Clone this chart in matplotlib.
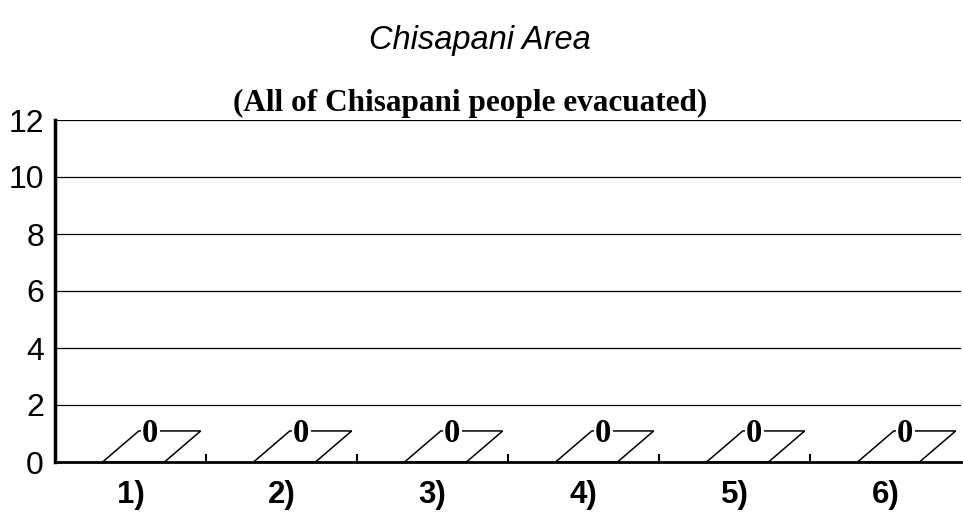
import numpy as np
import matplotlib
matplotlib.use("Agg")
from matplotlib import pyplot as plt
from matplotlib.patches import Polygon

### data ###

categories = ["1)", "2)", "3)", "4)", "5)", "6)"]
evacuees = [0, 0, 0, 0, 0, 0]
y_ticks = [0, 2, 4, 6, 8, 10, 12]

title = "Chisapani Area"
subtitle = "(All of Chisapani people evacuated)"

### plot ###

fig = plt.figure(figsize=(9.63, 5.12), dpi=100)
ax = fig.add_axes([55/963, 50/512, 906/963, 342/512])

x = np.arange(len(categories))
bar_w = 0.41
depth_x, depth_y = 0.24, 1.09

ax.set_xlim(-0.5, len(categories) - 0.5)
ax.set_ylim(0, 12)

# gridlines
for yv in y_ticks[1:]:
    ax.axhline(yv, color="black", lw=0.9, zorder=1)

# flat "3d" bars
for xi, v in zip(x, evacuees):
    x0 = xi - bar_w/2 + 0.02
    pts = [(x0, v), (x0 + bar_w, v),
           (x0 + bar_w + depth_x, v + depth_y), (x0 + depth_x, v + depth_y)]
    ax.add_patch(Polygon(pts, closed=True, fill=False, edgecolor="black", lw=1.1, zorder=3))
    if v > 0:
        ax.add_patch(Polygon([(x0, 0), (x0 + bar_w, 0), (x0 + bar_w, v), (x0, v)],
                             closed=True, fill=False, edgecolor="black", lw=1.1, zorder=3))
    ax.text(xi + 0.13, v + depth_y - 0.08, str(v), ha="center", va="center",
            family="Liberation Serif", fontweight="bold", fontsize=23.5, zorder=4,
            bbox=dict(facecolor="white", edgecolor="none", pad=1))

ax.set_yticks(y_ticks)
ax.set_yticklabels([str(t) for t in y_ticks], family="Liberation Sans", fontsize=23)
ax.set_xticks(x)
ax.set_xticklabels(categories, family="Liberation Sans", fontweight="bold", fontsize=22.5)
ax.tick_params(axis="y", length=0, pad=8)
ax.tick_params(axis="x", length=0, pad=13)
# small separator ticks between categories
ax.set_xticks(x[:-1] + 0.5, minor=True)
ax.tick_params(axis="x", which="minor", direction="in", length=6, width=1.5)

for s in ["top", "right"]:
    ax.spines[s].set_visible(False)
ax.spines["left"].set_linewidth(2.5)
ax.spines["bottom"].set_linewidth(2)

fig.text(480/963, 1 - 41/512, title, ha="center", va="center",
         family="Liberation Sans", style="italic", fontsize=23.5)
fig.text(470/963, 1 - 103/512, subtitle, ha="center", va="center",
         family="Liberation Serif", fontweight="bold", fontsize=22.5)

plt.savefig("out.png", dpi=100)
